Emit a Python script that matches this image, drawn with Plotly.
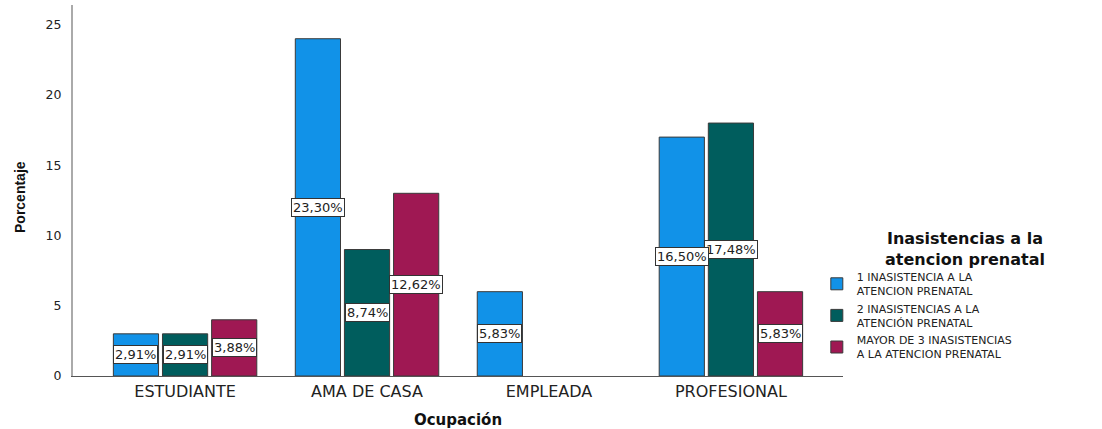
import plotly.graph_objects as go

categories = ["ESTUDIANTE", "AMA DE CASA", "EMPLEADA", "PROFESIONAL"]
series_names = [
    "1 INASISTENCIA A LA<br>ATENCION PRENATAL",
    "2 INASISTENCIAS A LA<br>ATENCIÓN PRENATAL",
    "MAYOR DE 3 INASISTENCIAS<br>A LA ATENCION PRENATAL",
]
legend_title = "Inasistencias a la<br>atencion prenatal"
counts_1 = [3, 24, 6, 17]
counts_2 = [3, 9, None, 18]
counts_3 = [4, 13, None, 6]
pct_1 = ["2,91%", "23,30%", "5,83%", "16,50%"]
pct_2 = ["2,91%", "8,74%", None, "17,48%"]
pct_3 = ["3,88%", "12,62%", None, "5,83%"]
colors = ["#1192e8", "#005d5d", "#9f1853"]
y_ticks = [0, 5, 10, 15, 20, 25]

counts = [counts_1, counts_2, counts_3]
pcts = [pct_1, pct_2, pct_3]

BARGAP = 0.19
BARGROUPGAP = 0.08
WIDE = "DejaVu Sans"

fig = go.Figure()
for name, vals, col in zip(series_names, counts, colors):
    fig.add_trace(go.Bar(
        x=categories, y=vals, name=name,
        marker=dict(color=col, line=dict(color="#3a3a3a", width=1)),
        hoverinfo="skip",
    ))

slot = (1 - BARGAP) / 3
annotations = []
for j in [2, 1, 0]:
    for i, (v, t) in enumerate(zip(counts[j], pcts[j])):
        if v is None or t is None:
            continue
        annotations.append(dict(
            x=i + (j - 1) * slot, y=v / 2, xref="x", yref="y",
            text=t, showarrow=False,
            font=dict(family=WIDE, size=13, color="#222222"),
            bgcolor="white", bordercolor="#333333", borderwidth=1, borderpad=1,
        ))

# legend title (centred over the legend block, as in the reference)
annotations.append(dict(
    x=(965 - 73) / 770, y=(376 - 249) / 371, xref="paper", yref="paper",
    xanchor="center", yanchor="middle", showarrow=False,
    text="<b>" + legend_title + "</b>",
    font=dict(family=WIDE, size=16, color="#111111"),
))
# y axis title
annotations.append(dict(
    x=-53 / 770, y=(376 - 197) / 371, xref="paper", yref="paper",
    xanchor="center", yanchor="middle", showarrow=False, textangle=-90,
    text="<b>Porcentaje</b>",
    font=dict(family="Liberation Sans", size=14, color="#111111"),
))

fig.update_layout(
    width=1102, height=429,
    margin=dict(l=73, r=259, t=5, b=53),
    plot_bgcolor="white", paper_bgcolor="white",
    barmode="group", bargap=BARGAP, bargroupgap=BARGROUPGAP,
    annotations=annotations,
    showlegend=True,
    legend=dict(
        x=0.966, xanchor="left", y=(376 - 263) / 371, yanchor="top",
        font=dict(family=WIDE, size=11, color="#222222"),
        tracegroupgap=0, itemwidth=30, bgcolor="rgba(0,0,0,0)",
    ),
    xaxis=dict(
        type="category", range=[-0.616, 3.616], automargin=False,
        showline=True, linecolor="#555555", linewidth=1,
        showgrid=False, zeroline=False, ticks="",
        ticklabelstandoff=1,
        tickfont=dict(family=WIDE, size=16, color="#222222"),
        title=dict(text="<b>Ocupación</b>", standoff=21,
                   font=dict(family=WIDE, size=15, color="#111111")),
    ),
    yaxis=dict(
        range=[0, 26.4], tickvals=y_ticks, automargin=False,
        showline=True, linecolor="#aaaaaa", linewidth=2,
        showgrid=False, zeroline=False, ticks="",
        ticklabelstandoff=7,
        tickfont=dict(family=WIDE, size=12.5, color="#222222"),
    ),
)

fig.write_html("out.html")
